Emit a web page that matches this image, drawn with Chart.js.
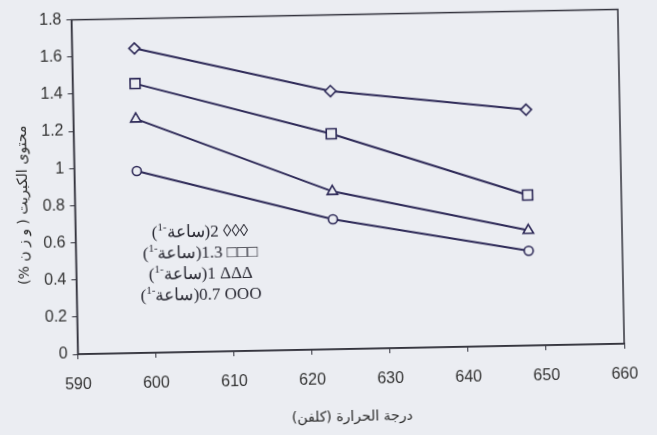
<!doctype html>
<html>
<head>
  <meta charset="utf-8" />
  <title>محتوى الكبريت ودرجة الحرارة</title>
  <script src="https://cdn.jsdelivr.net/npm/chart.js"></script>
  <style>
    html, body { margin: 0; padding: 0; background: #ebedf2; }
    #wrap { position: relative; width: 657px; height: 435px; overflow: hidden; }
    /* the scanned figure sits slightly tilted */
    #tilt { position: absolute; left: 0; top: 0; width: 657px; height: 435px;
            transform: rotate(-1.1deg); transform-origin: 347.5px 180px; }
    canvas { display: block; }
    .ytitle { position: absolute; left: 22px; top: 199px; white-space: nowrap;
              transform: translate(-50%, -50%) rotate(-90deg);
              font: 14px "DejaVu Sans", sans-serif; color: #2a2a2a; }
    .legend { position: absolute; left: 119px; width: 160px; top: 218px; line-height: 25px;
              text-align: center; white-space: nowrap;
              font: 17px "Liberation Serif", "DejaVu Serif", serif; color: #2b2b35; }
    .legend sup { font-size: 11px; line-height: 0; }
  </style>
</head>
<body>
  <div id="wrap">
    <div id="tilt">
      <canvas id="chart" width="657" height="435"></canvas>
      <div class="ytitle">محتوى الكبريت ( و ز ن %)</div>
      <div class="legend" id="legend"></div>
    </div>
  </div>

  <script>
    // temperature (K)
    const temps = [598, 623, 648];
    // sulfur content (wt%) per space velocity
    const sv2 = [1.64, 1.39, 1.27];
    const sv13 = [1.45, 1.16, 0.81];
    const sv1 = [1.26, 0.85, 0.62];
    const sv07 = [0.98, 0.70, 0.51];

    const svLabels = ["2", "1.3", "1", "0.7"];
    const svSymbols = ["◊◊◊", "□□□", "ΔΔΔ", "OOO"];

    const xMin = 590, xMax = 660, xStep = 10;
    const yMin = 0, yMax = 1.8, yStep = 0.2;

    const bg = "#ebedf2";
    const ink = "#2e2a58";
    const axisInk = "#33333d";
    const tickFont = { family: "Liberation Sans, Arial", size: 16 };

    function pts(ys) {
      return temps.map((t, i) => ({ x: t, y: ys[i] }));
    }

    function series(ys, style, r) {
      return {
        data: pts(ys),
        borderColor: ink,
        borderWidth: 2,
        tension: 0,
        pointStyle: style,
        pointRadius: r,
        pointBorderWidth: 1.6,
        pointBorderColor: ink,
        pointBackgroundColor: bg
      };
    }

    const frame = {
      id: "frame",
      afterDraw(chart) {
        const { ctx, chartArea: a } = chart;
        ctx.save();
        ctx.strokeStyle = axisInk;
        ctx.lineWidth = 1.5;
        ctx.strokeRect(a.left, a.top, a.right - a.left, a.bottom - a.top);
        ctx.restore();
      }
    };

    new Chart(document.getElementById("chart").getContext("2d"), {
      type: "line",
      data: {
        datasets: [
          series(sv2, "rectRot", 5.5),
          series(sv13, "rect", 7),
          series(sv1, "triangle", 6),
          series(sv07, "circle", 4.5)
        ]
      },
      options: {
        responsive: false,
        animation: false,
        layout: { padding: { top: 11, right: 36, left: 0, bottom: 0 } },
        plugins: { legend: { display: false }, tooltip: { enabled: false } },
        scales: {
          x: {
            type: "linear",
            min: xMin, max: xMax,
            ticks: { stepSize: xStep, padding: 16, color: "#333", font: tickFont },
            grid: { drawOnChartArea: false, tickLength: 5, color: axisInk },
            border: { color: axisInk, width: 1.5 },
            title: {
              display: true,
              text: "درجة الحرارة (كلفن)",
              color: "#2a2a2a",
              font: { family: "DejaVu Sans", size: 14 },
              padding: { top: 0, bottom: 9 }
            },
            afterFit(s) { s.height = 86; }
          },
          y: {
            min: yMin, max: yMax,
            ticks: {
              stepSize: yStep, padding: 5, color: "#333", font: tickFont,
              callback: v => String(+v.toFixed(1))
            },
            grid: { drawOnChartArea: false, tickLength: 5, color: axisInk },
            border: { color: axisInk, width: 1.5 },
            afterFit(s) { s.width = 74.5; }
          }
        }
      },
      plugins: [frame]
    });

    const lg = document.getElementById("legend");
    svLabels.forEach((lab, i) => {
      const row = document.createElement("div");
      row.innerHTML = '<bdi dir="rtl">(ساعة<sup>-1</sup>)</bdi>' + lab + " " + svSymbols[i];
      lg.appendChild(row);
    });
  </script>
</body>
</html>
